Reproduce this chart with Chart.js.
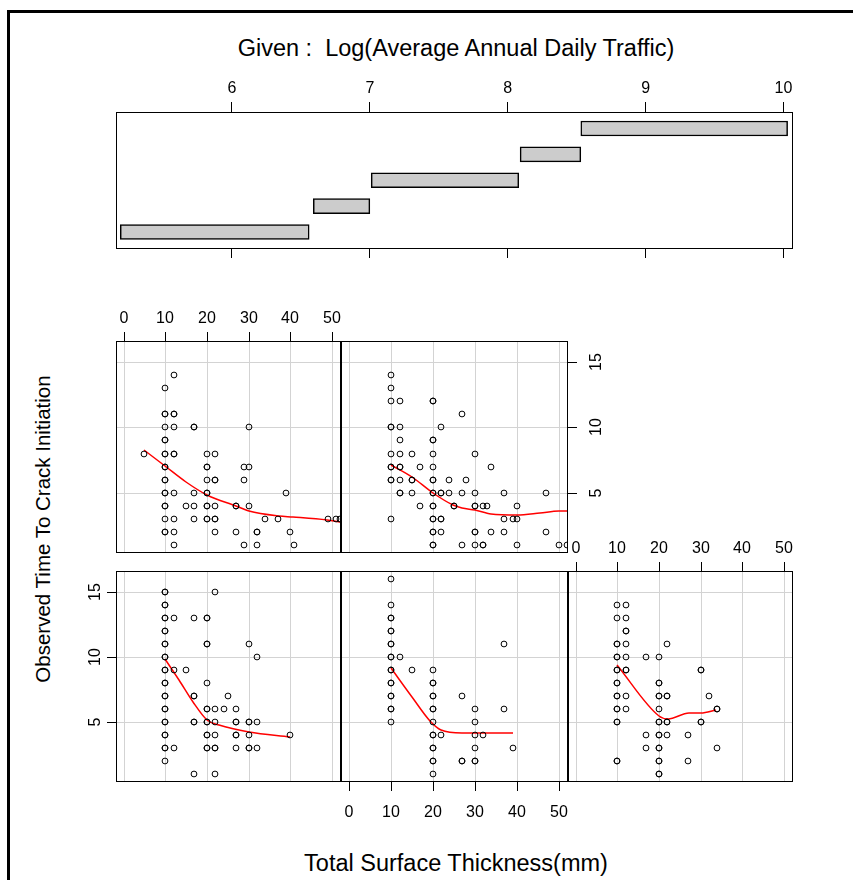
<!DOCTYPE html>
<html>
<head>
<meta charset="utf-8">
<script src="https://cdn.jsdelivr.net/npm/chart.js@4.4.1/dist/chart.umd.min.js"></script>
<style>
  html, body { margin: 0; padding: 0; background: #fff; }
  body { width: 853px; height: 880px; position: relative; overflow: hidden;
         font-family: "Liberation Sans", Arial, sans-serif; color: #000; }
  .outer { position: absolute; left: 7px; top: 10px; width: 1000px; height: 1000px;
           border-left: 3px solid #000; border-top: 3px solid #000; }
  canvas { position: absolute; }
  .title { position: absolute; font-size: 23.5px; line-height: 28px; white-space: pre; text-align: center; }
</style>
</head>
<body>
<div class="outer"></div>
<div class="title" style="left:0; top:34px; width:912px;">Given :  Log(Average Annual Daily Traffic)</div>
<div class="title" style="left:-257px; top:515px; width:600px; font-size:20.5px; transform:rotate(-90deg);">Observed Time To Crack Initiation</div>
<div class="title" style="left:0; top:849px; width:912px;">Total Surface Thickness(mm)</div>

<script>
// ---- data -------------------------------------------------------------
const thicknessTicks = [0, 10, 20, 30, 40, 50];
const timeTicks = [5, 10, 15];
const trafficTicks = [6, 7, 8, 9, 10];

// conditioning intervals of log(AADT), lowest first
const trafficIntervals = [
  [5.19, 6.56], [6.59, 7.00], [7.01, 8.08], [8.09, 8.53], [8.53, 10.03]
];

// [surface thickness (mm), years to crack initiation] per interval
const interval1Points = [
  [10,15],[10,15],[22,15],
  [10,14],[10,14],
  [10,13],[10,13],[12.2,13],[17,13],[20,13],[20,13],
  [10,12],[10,12],
  [10,11],[10,11],[20,11],[20,11],[30,11],
  [10,10],[10,10],[32,10],
  [10,9],[10,9],[12.2,9],[15,9],
  [10,8],[10,8],[20,8],
  [10,7],[10,7],[17,7],[17,7],[25,7],
  [10,6],[10,6],[20,6],[20,6],[22,6],[24,6],[27,6],
  [10,5],[10,5],[17,5],[17,5],[20,5],[20,5],[22,5],[27,5],[27,5],[30,5],[30,5],[32,5],
  [10,4],[10,4],[20,4],[20,4],[22,4],[27,4],[27,4],[30,4],[40,4],
  [10,3],[10,3],[12.2,3],[20,3],[20,3],[22,3],[22,3],[27,3],[30,3],[30,3],[32,3],
  [10,2],
  [17,1],[22,1]
];
const interval2Points = [
  [10,16],
  [10,14],
  [10,13],[10,13],
  [10,12],[10,12],
  [10,11],[10,11],[37,11],
  [10,10],[10,10],[12.2,10],
  [10,9],[10,9],[15,9],[20,9],
  [10,8],[10,8],[20,8],[20,8],
  [10,7],[10,7],[20,7],[20,7],[27,7],
  [10,6],[10,6],[20,6],[20,6],[30,6],[37,6],
  [10,5],[20,5],[30,5],
  [20,4],[20,4],[22,4],[30,4],[32,4],
  [20,3],[20,3],[30,3],[39,3],
  [20,2],[20,2],[27,2],[27,2],[30,2],[30,2],
  [20,1]
];
const interval3Points = [
  [10,14],[12.2,14],
  [10,13],[12.2,13],
  [12.2,12],[12.2,12],
  [10,11],[10,11],[12.2,11],[22,11],
  [10,10],[10,10],[12.2,10],[17,10],[20,10],
  [10,9],[10,9],[12.2,9],[12.2,9],[30,9],[30,9],
  [10,8],[10,8],[20,8],[20,8],
  [10,7],[10,7],[12.2,7],[20,7],[20,7],[22,7],[22,7],[32,7],
  [10,6],[10,6],[12.2,6],[20,6],[34,6],[34,6],
  [10,5],[10,5],[20,5],[20,5],[22,5],[22,5],[30,5],[30,5],
  [17,4],[20,4],[20,4],[22,4],[27,4],
  [17,3],[20,3],[20,3],[34,3],
  [10,2],[10,2],[20,2],[20,2],[27,2],
  [20,1],[20,1]
];
const interval4Points = [
  [12.2,14],
  [10,13],
  [10,11],[10,11],[12.2,11],[12.2,11],
  [10,10],[12.2,10],[17,10],[17,10],[30,10],
  [10,9],[10,9],
  [5,8],[10,8],[10,8],[12.2,8],[12.2,8],[20,8],[22,8],
  [10,7],[10,7],[20,7],[20,7],[29,7],[30,7],
  [10,6],[10,6],[20,6],[22,6],[22,6],[29,6],
  [10,5],[10,5],[12.2,5],[17,5],[20,5],[20,5],[39,5],
  [10,4],[10,4],[15,4],[17,4],[20,4],[20,4],[22,4],[27,4],[27,4],[30,4],
  [10,3],[12.2,3],[17,3],[20,3],[20,3],[22,3],[22,3],[34,3],[37,3],[49,3],[51,3],[52,3],
  [10,2],[10,2],[12.2,2],[22,2],[27,2],[32,2],[32,2],[40,2],
  [12.2,1],[29,1],[32,1],[41,1]
];
const interval5Points = [
  [10,14],
  [10,13],
  [10,12],[12.2,12],[20,12],[20,12],
  [27,11],
  [10,10],[10,10],[12.2,10],[22,10],
  [12.2,9],[20,9],[20,9],
  [10,8],[12.2,8],[15,8],[20,8],[30,8],
  [10,7],[10,7],[12.2,7],[12.2,7],[17,7],[20,7],[34,7],
  [10,6],[10,6],[12.2,6],[15,6],[15,6],[20,6],[20,6],[24,6],[28,6],
  [12.2,5],[12.2,5],[15,5],[20,5],[20,5],[22,5],[22,5],[24,5],[27,5],[30,5],[37,5],[47,5],
  [17,4],[20,4],[20,4],[25,4],[25,4],[30,4],[30,4],[32,4],[33,4],[40,4],
  [10,3],[20,3],[20,3],[22,3],[22,3],[37,3],[39,3],[40,3],
  [20,2],[20,2],[22,2],[30,2],[30,2],[34,2],[37,2],[47,2],
  [20,1],[20,1],[27,1],[30,1],[32,1],[32,1],[40,1],[50,1],[52,1]
];

// smoothed (loess) curves per interval
const interval1Smooth = [[10,9.86],[13.4,8.2],[16.7,6.57],[20,5.15],[23,4.79],[30,4.23],[40,3.87]];
const interval2Smooth = [[10,9.14],[15,6.95],[19.4,5.08],[22.1,4.43],[26.9,4.18],[39.2,4.18]];
const interval3Smooth = [[10,9.42],[20,5.5],[22.2,5.26],[27.2,5.7],[30,5.7],[33.8,5.9]];
const interval4Smooth = [[4.9,8.3],[10,7.03],[15,5.8],[20,4.8],[27,3.96],[30,3.6],[37.2,3.2],[40.6,3.15],[48.9,2.95],[52,2.77]];
const interval5Smooth = [[10,7.13],[15,6.2],[20,5],[24.9,4.04],[26.9,3.86],[30,3.65],[34,3.35],[40,3.27],[45.6,3.45],[50,3.6],[52.6,3.6]];

// ---- layout -----------------------------------------------------------
const FONT = "'Liberation Sans', Arial, sans-serif";
const MARGIN = 40;           // canvas room around each plotting region
const GRID = '#d3d3d3';
Chart.defaults.font.family = FONT;
Chart.defaults.color = '#000';

function makeCanvas(rect) {
  const c = document.createElement('canvas');
  c.width = rect.w + 2 * MARGIN;
  c.height = rect.h + 2 * MARGIN;
  c.style.left = (rect.left - MARGIN) + 'px';
  c.style.top = (rect.top - MARGIN) + 'px';
  document.body.appendChild(c);
  return c;
}

// black box around the plotting region
const panelFrame = {
  id: 'panelFrame',
  afterDraw(chart) {
    const { ctx, chartArea: a } = chart;
    ctx.save();
    ctx.strokeStyle = '#000';
    ctx.lineWidth = 1;
    ctx.strokeRect(a.left + 0.5, a.top + 0.5, a.right - a.left - 1, a.bottom - a.top - 1);
    ctx.restore();
  }
};

// an axis with labels takes the whole margin on its side; other sides are padding
function paddingFor(sides) {
  return {
    top: sides.includes('top') ? 0 : MARGIN,
    bottom: sides.includes('bottom') ? 0 : MARGIN,
    left: sides.includes('left') ? 0 : MARGIN,
    right: sides.includes('right') ? 0 : MARGIN
  };
}

const baseOptions = (sides) => ({
  responsive: false,
  animation: false,
  devicePixelRatio: 1,
  events: [],
  layout: { padding: paddingFor(sides) },
  plugins: { legend: { display: false }, tooltip: { enabled: false }, title: { display: false } }
});

function fixedTicks(values) {
  return s => { s.ticks = values.map(v => ({ value: v })); };
}

function thicknessScale(side) {
  const shown = !!side;
  return {
    type: 'linear', position: side || 'bottom', min: -1.8, max: 52.2,
    alignToPixels: true,
    afterBuildTicks: fixedTicks(thicknessTicks),
    afterFit: s => { s.height = shown ? MARGIN : 0; },
    border: { display: false },
    grid: { color: GRID, lineWidth: 1, drawTicks: shown, tickLength: 9, tickColor: '#000', tickWidth: 1 },
    ticks: { display: shown, autoSkip: false, maxRotation: 0, padding: side === 'bottom' ? 12 : 4,
             font: { size: 16 }, color: '#000' }
  };
}

function timeScale(side) {
  const shown = !!side;
  return {
    type: 'linear', position: side || 'left', min: 0.4, max: 16.6,
    alignToPixels: true,
    afterBuildTicks: fixedTicks(timeTicks),
    afterFit: s => { s.width = shown ? MARGIN : 0; },
    border: { display: false },
    grid: { color: GRID, lineWidth: 1, drawTicks: shown, tickLength: 9, tickColor: '#000', tickWidth: 1 },
    ticks: { display: shown, minRotation: 90, maxRotation: 90, crossAlign: 'center',
             padding: side === 'right' ? 11 : 3, font: { size: 16 }, color: '#000' }
  };
}

function scatterPanel(rect, points, smooth, xSide, ySide) {
  new Chart(makeCanvas(rect), {
    type: 'scatter',
    data: {
      datasets: [
        {
          data: points.map(([x, y]) => ({ x, y })),
          pointStyle: 'circle', pointRadius: 2.9, pointBorderWidth: 1,
          pointBorderColor: '#000', pointBackgroundColor: 'rgba(0,0,0,0)',
          showLine: false, clip: 0
        },
        {
          data: smooth.map(([x, y]) => ({ x, y })),
          showLine: true, pointRadius: 0, borderColor: '#ff0000', borderWidth: 1.5,
          cubicInterpolationMode: 'monotone', fill: false, clip: 0
        }
      ]
    },
    options: Object.assign(baseOptions([xSide, ySide].filter(Boolean)), {
      scales: { x: thicknessScale(xSide), y: timeScale(ySide) }
    }),
    plugins: [panelFrame]
  });
}

// ---- given panel: conditioning intervals ------------------------------
const givenRect = { left: 116, top: 112, w: 677, h: 137 };
const trafficRange = { min: 5.159, max: 10.069 };

new Chart(makeCanvas(givenRect), {
  type: 'bar',
  data: {
    datasets: [{
      data: trafficIntervals.map((r, i) => ({ x: r, y: i + 1 })),
      backgroundColor: '#cccccc', borderColor: '#000', borderWidth: 1.5,
      borderSkipped: false, barThickness: 15
    }]
  },
  options: Object.assign(baseOptions(['top']), {
    indexAxis: 'y',
    scales: {
      x: {
        type: 'linear', position: 'top', min: trafficRange.min, max: trafficRange.max,
        afterBuildTicks: fixedTicks(trafficTicks),
        afterFit: s => { s.height = MARGIN; },
        border: { display: false },
        grid: { drawOnChartArea: false, drawTicks: true, tickLength: 10, tickColor: '#000' },
        ticks: { autoSkip: false, maxRotation: 0, padding: 4, font: { size: 16 }, color: '#000' }
      },
      xb: {
        axis: 'x', type: 'linear', position: 'bottom', min: trafficRange.min, max: trafficRange.max,
        afterBuildTicks: fixedTicks(trafficTicks),
        afterFit: s => { s.height = 0; },
        border: { display: false },
        grid: { drawOnChartArea: false, drawTicks: true, tickLength: 9, tickColor: '#000' },
        ticks: { display: false }
      },
      y: { type: 'linear', display: false, offset: false, min: 0.343, max: 5.638 }
    }
  }),
  plugins: [panelFrame]
});

// ---- dependence panels (bottom row: intervals 1-3, top row: 4-5) -------
scatterPanel({ left: 116, top: 571, w: 225, h: 211 }, interval1Points, interval1Smooth, null, 'left');
scatterPanel({ left: 341, top: 571, w: 227, h: 211 }, interval2Points, interval2Smooth, 'bottom', null);
scatterPanel({ left: 568, top: 571, w: 225, h: 211 }, interval3Points, interval3Smooth, 'top', null);
scatterPanel({ left: 116, top: 341, w: 225, h: 212 }, interval4Points, interval4Smooth, 'top', null);
scatterPanel({ left: 341, top: 341, w: 227, h: 212 }, interval5Points, interval5Smooth, null, 'right');
</script>
</body>
</html>
